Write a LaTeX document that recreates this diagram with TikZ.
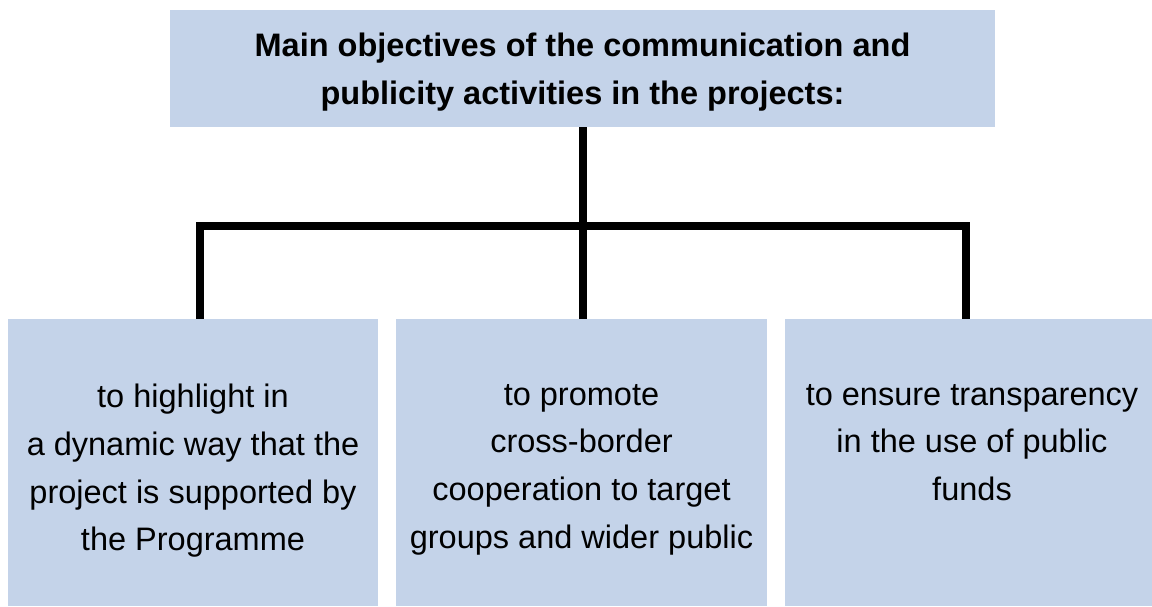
\documentclass[tikz,border=0pt]{standalone}
\usepackage{fontspec}
\setmainfont{Liberation Sans}
\usepackage{tikz}
\usepackage{xcolor}
\usetikzlibrary{positioning}
\definecolor{boxblue}{HTML}{C4D3E9}

\begin{document}
\begin{tikzpicture}[
    objbox/.style={fill=boxblue, draw=none, inner sep=0pt},
    objtext/.style={align=center, inner sep=0pt, font=\fontsize{18.5}{27.2}\selectfont},
    bar/.style={line width=0.16cm, line join=miter}
  ]
    % page frame
    \useasboundingbox (0,0) rectangle (23.04,-12.12);

    % heading box
    \node[objbox, minimum width=16.5cm, minimum height=2.34cm] (head) at (11.65,-1.37) {};
    \node[objtext, font=\bfseries\fontsize{18.5}{27.2}\selectfont, anchor=north] (headtxt) at ([yshift=-0.46cm]head.north)
        {Main objectives of the communication and\\ publicity activities in the projects:};

    % objective boxes
    \node[objbox, minimum width=7.4cm, minimum height=5.74cm] (obja) at (3.86,-9.25) {};
    \node[objbox, minimum width=7.42cm, minimum height=5.74cm] (objb) at (11.63,-9.25) {};
    \node[objbox, minimum width=7.34cm, minimum height=5.74cm] (objc) at (19.37,-9.25) {};

    \node[objtext, anchor=north] (txta) at ([yshift=-1.3cm]obja.north)
        {to highlight in\\ a dynamic way that the\\ project is supported by\\ the Programme};
    \node[objtext, anchor=north] (txtb) at ([yshift=-1.3cm]objb.north)
        {to promote\\ cross-border\\ cooperation to target\\ groups and wider public};
    \node[objtext, anchor=north] (txtc) at ([xshift=0.07cm, yshift=-1.3cm]objc.north)
        {to ensure transparency\\ in the use of public\\ funds};

    % connectors
    \coordinate (barl) at (4.0,-4.52);
    \coordinate (barr) at (19.32,-4.52);
    \draw[bar] (head.south) -- (head.south |- objb.north);
    \draw[bar] (obja.north -| barl) -- (barl) -- (barr) -- (objc.north -| barr);
\end{tikzpicture}
\end{document}
